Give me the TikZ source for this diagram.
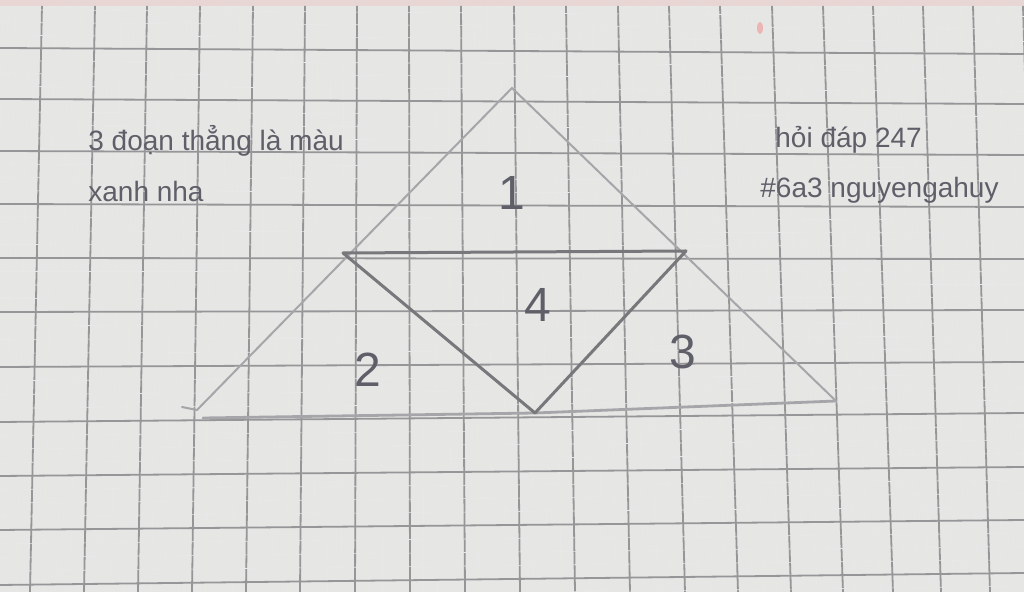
\documentclass[tikz,border=0pt]{standalone}
\usepackage{fontspec}
\setmainfont{Liberation Sans}
\definecolor{paper}{RGB}{230,230,228}
\definecolor{gridln}{RGB}{150,150,152}
\definecolor{pencil}{RGB}{150,150,155}
\definecolor{ink}{RGB}{95,95,105}
\begin{document}
\begin{tikzpicture}[x=0.5pt,y=-0.5pt,
  major/.style={draw=gridln,line width=0.9pt},
  minor/.style={draw=gridln!22,line width=0.3pt},
  outer/.style={draw=pencil!85,line width=1pt,line cap=round},
  inner/.style={draw=pencil!80!black,line width=1.5pt,line cap=round,line join=round},
  note/.style={text=ink,font=\fontsize{14}{16}\selectfont,anchor=base west,inner sep=0pt},
  num/.style={text=ink,font=\fontsize{24}{24}\selectfont,inner sep=0pt}]
\useasboundingbox (0,0) rectangle (1024,592);
\fill[paper] (0,0) rectangle (1024,592);
\fill[red!7!paper] (0,0) rectangle (1024,6);
% grid of the notebook page
\foreach \t/\b/\tn/\bn in {-10/-24/42/30,42/30/95/84,95/84/147/138,147/138/200/192,
  200/192/253/246,253/246/305/300,305/300/357/355,357/355/409/410,409/410/461/465,
  461/465/514/520,514/520/566/575,566/575/618/630,618/630/669/685,669/685/720/738,
  720/738/772/791,772/791/823/843,823/843/873/893,873/893/923/941,923/941/973/990,
  973/990/1023/1040}{
  \foreach \f in {0.25,0.5,0.75}
    \draw[minor] ({\t+\f*(\tn-\t)},6) -- ({\b+\f*(\bn-\b)},592);
  \draw[major] (\tn,6) -- (\bn,592);
}
\foreach \l/\r/\ln/\rn in {-3/4/48/54,48/54/99/104,99/104/151/155,151/155/204/207,
  204/207/258/259,258/259/312/310,312/310/367/362,367/362/422/413,422/413/476/467,
  476/467/530/520,530/520/585/573,585/573/640/626}{
  \foreach \f in {0.25,0.5,0.75}
    \draw[minor] (0,{\l+\f*(\ln-\l)}) -- (1024,{\r+\f*(\rn-\r)});
  \draw[major] (0,\ln) -- (1024,\rn);
}
\fill[red!22!paper] (760,28) ellipse (3 and 6);
% the figure
\coordinate (A) at (512,88);
\coordinate (B) at (197,410);
\coordinate (C) at (836,401);
\coordinate (M) at (343,253);
\coordinate (N) at (686,251);
\coordinate (P) at (535,413);
\draw[outer] (182,407) -- (B) -- (A) -- (C);
\draw[outer,line width=1.4pt] (203,418) -- (P) -- (C);
\draw[inner] (M) -- (N) -- (P) -- cycle;
\node[num] (n1) at (512,193) {1};
\node[num] (n2) at (368,370) {2};
\node[num] (n3) at (683,352) {3};
\node[num] (n4) at (538,305) {4};
% notes
\node[note] (t1) at (88,151) {3 đoạn thẳng là màu};
\node[note] (t2) at (88,202) {xanh nha};
\node[note] (t3) at (775,148) {hỏi đáp 247};
\node[note] (t4) at (760,198) {\#6a3 nguyengahuy};
\end{tikzpicture}
\end{document}
